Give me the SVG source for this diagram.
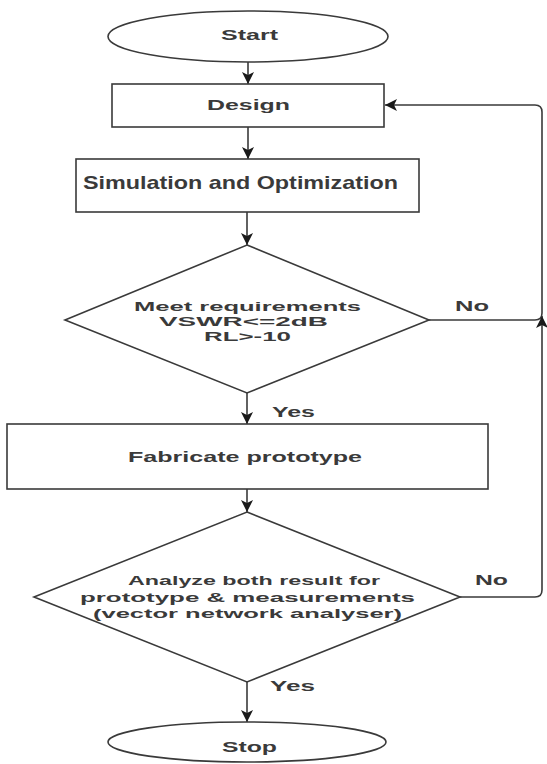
<svg xmlns="http://www.w3.org/2000/svg" width="547" height="764" viewBox="0 0 547 764">
<style>
.shape{fill:#ffffff;stroke:#3a3a3a;stroke-width:1.6}
.edge{fill:none;stroke:#3a3a3a;stroke-width:1.6}
text{font-family:"Liberation Sans",Arial,sans-serif;font-weight:bold;fill:#3a3a3a;font-size:15px}
.ml{font-size:13px}
</style>
<defs>
<marker id="arr" markerUnits="userSpaceOnUse" markerWidth="14" markerHeight="12" viewBox="0 0 14 12" refX="12" refY="6" orient="auto">
<path d="M0,0 L12,6 L0,12 L3,6 z" fill="#1a1a1a"/>
</marker>
</defs>
<rect width="547" height="764" fill="#ffffff"/>
<g id="connectors">
<path class="edge" d="M248,62 L248,84" marker-end="url(#arr)"/>
<path class="edge" d="M248,127 L248,159" marker-end="url(#arr)"/>
<path class="edge" d="M247,212 L247,245" marker-end="url(#arr)"/>
<path class="edge" d="M247,393 L247,424" marker-end="url(#arr)"/>
<path class="edge" d="M247,489 L247,512" marker-end="url(#arr)"/>
<path class="edge" d="M247,682 L247,722" marker-end="url(#arr)"/>
<path class="edge" d="M429,320 L535,320 Q542,320 542,313 L542,112 Q542,105 535,105 L385,105" marker-end="url(#arr)"/>
<path class="edge" d="M460,597 L535,597 Q542,597 542,590 L542,316" marker-end="url(#arr)"/>
<text x="455" y="311" textLength="34" lengthAdjust="spacingAndGlyphs">No</text>
<text x="272" y="417" textLength="43" lengthAdjust="spacingAndGlyphs">Yes</text>
<text x="475" y="585" textLength="33" lengthAdjust="spacingAndGlyphs">No</text>
<text x="270" y="691" textLength="45" lengthAdjust="spacingAndGlyphs">Yes</text>
</g>
<g id="start">
<ellipse class="shape" cx="248" cy="36.5" rx="140" ry="25.5"/>
<text x="221" y="40" textLength="57" lengthAdjust="spacingAndGlyphs">Start</text>
</g>
<g id="design">
<rect class="shape" x="112" y="84" width="272" height="43"/>
<text x="207" y="110" textLength="83" lengthAdjust="spacingAndGlyphs">Design</text>
</g>
<g id="simulation">
<rect class="shape" x="76" y="159" width="343" height="53"/>
<text x="83" y="189" style="font-size:19px" textLength="315" lengthAdjust="spacingAndGlyphs">Simulation and Optimization</text>
</g>
<g id="decision1">
<polygon class="shape" points="247,245 429,320 247,393 65,320"/>
<text class="ml" x="134" y="311" textLength="227" lengthAdjust="spacingAndGlyphs">Meet requirements</text>
<text class="ml" x="159" y="326" textLength="169" lengthAdjust="spacingAndGlyphs">VSWR&lt;=2dB</text>
<text class="ml" x="204" y="341" textLength="87" lengthAdjust="spacingAndGlyphs">RL&gt;-10</text>
</g>
<g id="fabricate">
<rect class="shape" x="7" y="424" width="481" height="65"/>
<text x="128" y="462" textLength="234" lengthAdjust="spacingAndGlyphs">Fabricate prototype</text>
</g>
<g id="decision2">
<polygon class="shape" points="247,512 460,597 247,682 34,597"/>
<text class="ml" x="128" y="585" textLength="252" lengthAdjust="spacingAndGlyphs">Analyze both result for</text>
<text class="ml" x="80" y="602" textLength="335" lengthAdjust="spacingAndGlyphs">prototype &amp; measurements</text>
<text class="ml" x="93" y="618" textLength="309" lengthAdjust="spacingAndGlyphs">(vector network analyser)</text>
</g>
<g id="stop">
<ellipse class="shape" cx="247" cy="742" rx="139" ry="20"/>
<text x="222" y="752" textLength="55" lengthAdjust="spacingAndGlyphs">Stop</text>
</g>
</svg>
